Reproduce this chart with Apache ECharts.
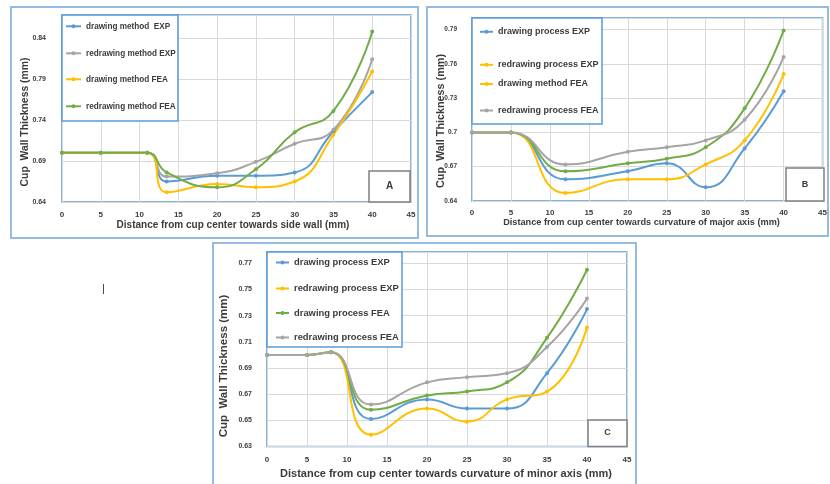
<!DOCTYPE html>
<html>
<head>
<meta charset="utf-8">
<script src="https://cdn.jsdelivr.net/npm/echarts@6/dist/echarts.min.js"></script>
<style>
html,body{margin:0;padding:0;background:#fff;}
#c{width:830px;height:484px;}
</style>
</head>
<body>
<div id="c"></div>
<script>
// ---------- DATA ----------
// Panel A: side wall
const A_X = [0, 5, 11, 13.5, 20, 25, 30, 35, 40];
const A_DRAW_EXP   = [0.700, 0.700, 0.700, 0.665, 0.672, 0.672, 0.676, 0.726, 0.774];
const A_REDRAW_EXP = [0.700, 0.700, 0.700, 0.671, 0.675, 0.689, 0.711, 0.728, 0.814];
const A_DRAW_FEA   = [0.700, 0.700, 0.700, 0.652, 0.662, 0.658, 0.665, 0.722, 0.799];
const A_REDRAW_FEA = [0.700, 0.700, 0.700, 0.676, 0.658, 0.680, 0.725, 0.751, 0.848];
const A_NAMES = ['drawing method  EXP', 'redrawing method EXP', 'drawing method FEA', 'redrawing method FEA'];

// Panel B: major axis
const B_X = [0, 5, 12, 20, 25, 30, 35, 40];
const B_DRAW_EXP   = [0.700, 0.700, 0.659, 0.666, 0.673, 0.652, 0.686, 0.736];
const B_REDRAW_EXP = [0.700, 0.700, 0.647, 0.659, 0.659, 0.672, 0.693, 0.751];
const B_DRAW_FEA   = [0.700, 0.700, 0.666, 0.673, 0.677, 0.687, 0.721, 0.789];
const B_REDRAW_FEA = [0.700, 0.700, 0.672, 0.683, 0.687, 0.693, 0.711, 0.766];
const B_NAMES = ['drawing process EXP', 'redrawing process EXP', 'drawing method FEA', 'redrawing process FEA'];

// Panel C: minor axis
const C_X = [0, 5, 8, 13, 20, 25, 30, 35, 40];
const C_DRAW_EXP   = [0.700, 0.700, 0.702, 0.651, 0.666, 0.659, 0.659, 0.686, 0.735];
const C_REDRAW_EXP = [0.700, 0.700, 0.702, 0.639, 0.659, 0.649, 0.666, 0.672, 0.721];
const C_DRAW_FEA   = [0.700, 0.700, 0.702, 0.658, 0.669, 0.672, 0.679, 0.713, 0.765];
const C_REDRAW_FEA = [0.700, 0.700, 0.702, 0.662, 0.679, 0.683, 0.686, 0.706, 0.743];
const C_NAMES = ['drawing process EXP', 'redrawing process EXP', 'drawing process FEA', 'redrawing process FEA'];

const Y_TITLE = 'Cup  Wall Thickness (mm)';
const X_TITLES = [
  'Distance from cup center towards side wall (mm)',
  'Distance from cup center towards curvature of major axis (mm)',
  'Distance from cup center towards curvature of minor axis (mm)'
];
const PANEL_LETTERS = ['A', 'B', 'C'];

// ---------- STYLE ----------
const BLUE = '#5B9BD5', GREY = '#A5A5A5', YELLOW = '#FFC000', GREEN = '#70AD47';
const FONT = '"Liberation Sans", Arial, sans-serif';
const TXT = '#3b3b3b';
const FRAME = '#5B9BD5';
const OUTER = '#95BBDF';

function mkSeries(name, xs, ys, color, idx) {
  return {
    type: 'line', name: name, xAxisIndex: idx, yAxisIndex: idx,
    data: xs.map((x, i) => [x, ys[i]]),
    smooth: 0.5, symbol: 'circle', symbolSize: 4, showSymbol: true,
    lineStyle: { width: 2, color: color }, itemStyle: { color: color },
    emphasis: { disabled: true }, animation: false
  };
}

const series = [
  mkSeries(A_NAMES[0], A_X, A_DRAW_EXP, BLUE, 0),
  mkSeries(A_NAMES[1], A_X, A_REDRAW_EXP, GREY, 0),
  mkSeries(A_NAMES[2], A_X, A_DRAW_FEA, YELLOW, 0),
  mkSeries(A_NAMES[3], A_X, A_REDRAW_FEA, GREEN, 0),
  mkSeries(B_NAMES[0], B_X, B_DRAW_EXP, BLUE, 1),
  mkSeries(B_NAMES[1], B_X, B_REDRAW_EXP, YELLOW, 1),
  mkSeries(B_NAMES[2], B_X, B_DRAW_FEA, GREEN, 1),
  mkSeries(B_NAMES[3], B_X, B_REDRAW_FEA, GREY, 1),
  mkSeries(C_NAMES[0], C_X, C_DRAW_EXP, BLUE, 2),
  mkSeries(C_NAMES[1], C_X, C_REDRAW_EXP, YELLOW, 2),
  mkSeries(C_NAMES[2], C_X, C_DRAW_FEA, GREEN, 2),
  mkSeries(C_NAMES[3], C_X, C_REDRAW_FEA, GREY, 2)
];

// grids: [left, top, right, bottom] in px
const G = [
  { l: 62, t: 15, r: 411, b: 202 },
  { l: 472, t: 18, r: 824.5, b: 201 },
  { l: 267, t: 252, r: 627, b: 446.5 }
];
const grid = G.map(g => ({
  left: g.l, top: g.t, width: g.r - g.l, height: g.b - g.t,
  show: true, borderColor: FRAME, borderWidth: 1.5, backgroundColor: 'transparent'
}));

const xFont = [8, 8, 8];
const xMargin = [9, 8, 9];
const xAxis = G.map((g, i) => ({
  type: 'value', gridIndex: i, min: 0, max: 45, interval: 5,
  axisLine: { show: false }, axisTick: { show: false },
  splitLine: { show: true, lineStyle: { color: '#D9D9D9', width: 1 } },
  axisLabel: { color: TXT, fontSize: xFont[i], fontWeight: 'bold', fontFamily: FONT, margin: xMargin[i] }
}));

const yCfg = [
  { min: 0.64, max: 0.868, interval: 0.05, fs: 7, m: 16 },
  { min: 0.64, max: 0.80, interval: 0.03, fs: 6.5, m: 15 },
  { min: 0.63, max: 0.7786, interval: 0.02, fs: 7, m: 15 }
];
const yAxis = yCfg.map((c, i) => ({
  type: 'value', gridIndex: i, min: c.min, max: c.max, interval: c.interval,
  axisLine: { show: false }, axisTick: { show: false },
  splitLine: { show: true, lineStyle: { color: '#D9D9D9', width: 1 } },
  axisLabel: {
    color: TXT, fontSize: c.fs, fontWeight: 'bold', fontFamily: FONT, margin: c.m,
    showMaxLabel: false, formatter: v => String(Math.round(v * 100) / 100)
  }
}));

// legends (one per entry to follow the reference spacing)
const LEG = [
  { names: A_NAMES, left: 65, iw: 15, fs: 8.2, ys: [27.3, 54.3, 80.3, 107.3] },
  { names: B_NAMES, left: 479, iw: 13, fs: 9.0, ys: [32.3, 65.3, 84.5, 111] },
  { names: C_NAMES, left: 275, iw: 13, fs: 9.4, ys: [263, 289, 313.5, 338] }
];
const legend = [];
LEG.forEach(L => {
  L.names.forEach((n, k) => {
    legend.push({
      data: [n], left: L.left, top: L.ys[k] - 5, padding: 0, itemGap: 0,
      itemWidth: L.iw, itemHeight: 5, selectedMode: false,
      textStyle: { color: TXT, fontSize: L.fs, fontWeight: 'bold', fontFamily: FONT }
    });
  });
});

function rect(x, y, w, h, stroke, lw, fill, z) {
  return { type: 'rect', shape: { x: x, y: y, width: w, height: h }, z: z, silent: true,
           style: { stroke: stroke, lineWidth: lw, fill: fill } };
}
function text(str, x, y, size, rot, z) {
  return { type: 'text', x: x, y: y, rotation: rot || 0, z: z || 5, silent: true,
           style: { text: str, align: 'center', verticalAlign: 'middle', fill: TXT,
                    font: 'bold ' + size + 'px ' + FONT } };
}

const graphic = [
  // outer panel frames
  rect(11, 7, 407, 231, OUTER, 2, 'none', 1),
  rect(427, 7, 401, 229, OUTER, 2, 'none', 1),
  rect(213, 243, 423, 245, OUTER, 2, 'none', 1),
  // legend boxes
  rect(62, 15, 116, 106, FRAME, 1.5, '#fff', 3),
  rect(472, 18, 130, 106, FRAME, 1.5, '#fff', 3),
  rect(267, 252, 135, 95, FRAME, 1.5, '#fff', 3),
  // panel letter boxes
  rect(369, 171, 41, 31, '#7F7F7F', 1.5, '#fff', 3),
  rect(786, 168, 38, 33, '#7F7F7F', 1.5, '#fff', 3),
  rect(588, 420, 39, 26.5, '#7F7F7F', 1.5, '#fff', 3),
  text(PANEL_LETTERS[0], 389.5, 186.5, 10, 0, 5),
  text(PANEL_LETTERS[1], 805, 184.5, 9, 0, 5),
  text(PANEL_LETTERS[2], 607.5, 433, 9, 0, 5),
  // axis titles
  text(Y_TITLE, 25, 122, 10.4, Math.PI / 2, 5),
  text(Y_TITLE, 441, 121, 10.8, Math.PI / 2, 5),
  text(Y_TITLE, 223.5, 366, 11.5, Math.PI / 2, 5),
  text(X_TITLES[0], 233, 225, 10, 0, 5),
  text(X_TITLES[1], 641.5, 222, 9.2, 0, 5),
  text(X_TITLES[2], 446, 473.5, 11, 0, 5),
  // stray mark in the reference
  { type: 'text', x: 103.5, y: 289, z: 5, silent: true,
    style: { text: '|', align: 'center', verticalAlign: 'middle', fill: '#333', font: '11px ' + FONT } }
];

const chart = echarts.init(document.getElementById('c'), null, { renderer: 'canvas' });
chart.setOption({
  animation: false,
  backgroundColor: '#ffffff',
  grid: grid, xAxis: xAxis, yAxis: yAxis, legend: legend,
  series: series, graphic: graphic
});
</script>
</body>
</html>
